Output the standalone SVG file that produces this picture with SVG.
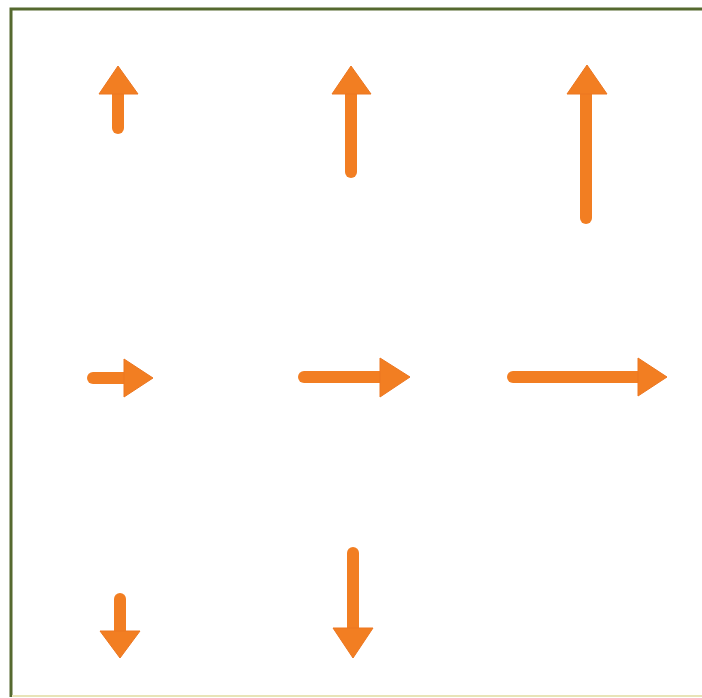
<svg xmlns="http://www.w3.org/2000/svg" width="702" height="698" viewBox="0 0 702 698">
<style>
.shaft{stroke:#F27E22;stroke-width:12;stroke-linecap:round;fill:none}
.head{fill:#F27E22;stroke:#EC7620;stroke-width:1;stroke-linejoin:round}
</style>
<rect x="0" y="0" width="702" height="698" fill="#FFFFFF"/>
<path d="M11,697 V9 H702" fill="none" stroke="#55692F" stroke-width="3"/>
<path d="M12,696 H702" fill="none" stroke="#E8E4B8" stroke-width="2"/>
<g id="connectors">
  <g id="up-short">
    <line class="shaft" x1="118" y1="128" x2="118" y2="90"/>
    <polygon class="head" points="118,66 138,94 99,94"/>
  </g>
  <g id="up-medium">
    <line class="shaft" x1="351" y1="172" x2="351" y2="90"/>
    <polygon class="head" points="351,66 371,94 332,94"/>
  </g>
  <g id="up-long">
    <line class="shaft" x1="586" y1="218" x2="586" y2="90"/>
    <polygon class="head" points="587,65 607,94 567,94"/>
  </g>
  <g id="right-short">
    <line class="shaft" x1="93" y1="378" x2="127" y2="378"/>
    <polygon class="head" points="153,378 124,359 124,397"/>
  </g>
  <g id="right-medium">
    <line class="shaft" x1="304" y1="377" x2="383" y2="377"/>
    <polygon class="head" points="410,377 380,358 380,397"/>
  </g>
  <g id="right-long">
    <line class="shaft" x1="513" y1="377" x2="642" y2="377"/>
    <polygon class="head" points="667,377 638,358 638,396"/>
  </g>
  <g id="down-short">
    <line class="shaft" x1="120" y1="599" x2="120" y2="634"/>
    <polygon class="head" points="120,658 100,631 140,631"/>
  </g>
  <g id="down-medium">
    <line class="shaft" x1="353" y1="553" x2="353" y2="631"/>
    <polygon class="head" points="353,658 333,628 373,628"/>
  </g>
</g>
</svg>
